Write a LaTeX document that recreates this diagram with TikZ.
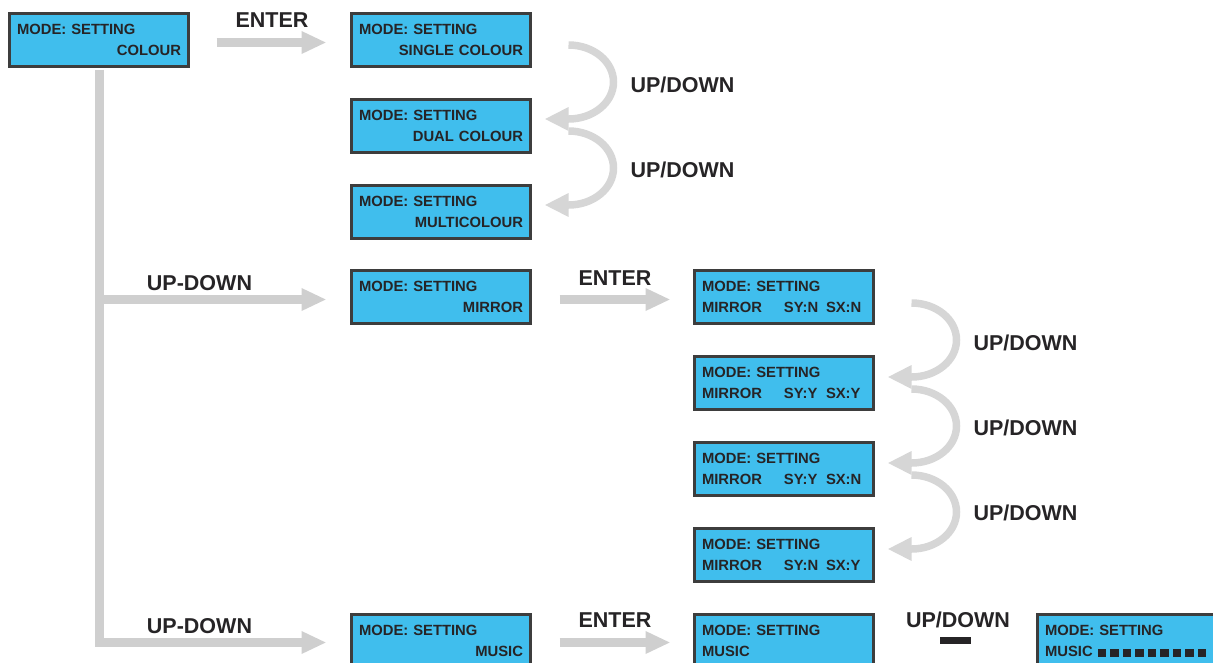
\documentclass[tikz,border=0pt]{standalone}
\usepackage{fontspec}
\setmainfont{Liberation Sans}
\usetikzlibrary{arrows.meta}
\definecolor{lcd}{RGB}{64,190,237}
\definecolor{frame}{RGB}{61,61,61}
\definecolor{ink}{RGB}{38,36,38}
\definecolor{arrowgray}{RGB}{207,207,207}
\definecolor{curvegray}{RGB}{214,214,214}
\newcommand\musicsq{\rule{8.5pt}{7.5pt}\hspace{4pt}}
\newcommand\rline[1]{\makebox[164pt][r]{#1}}
\newcommand\mline[2]{\makebox[82pt][l]{MIRROR}\makebox[42pt][l]{#1}#2}
\begin{document}
\begin{tikzpicture}[x=1pt,y=-1pt,
 lcdbox/.style={draw=frame, fill=lcd, line width=3pt, minimum width=179pt, minimum height=53pt, inner sep=0pt, text width=164pt, align=left, font=\bfseries\fontsize{14.8}{21}\selectfont, text=ink},
 lbl/.style={font=\bfseries\fontsize{21.5}{24}\selectfont, text=ink, inner sep=0pt, text height=15.4pt, text depth=0pt},
 bigarrow/.style={draw=arrowgray, line width=9pt, -{Triangle[length=25pt,width=21pt]}},
 curvearrow/.style={draw=curvegray, line width=7.5pt, -{Triangle[length=24pt,width=22pt]}},
]
\useasboundingbox (0,0) rectangle (1213,662);
\clip (0,0) rectangle (1213,662);

% boxes
\node[lcdbox] (b1) at (99,40) {MODE: SETTING\\\rline{COLOUR}};
\node[lcdbox] (b2) at (441,40) {MODE: SETTING\\\rline{SINGLE COLOUR}};
\node[lcdbox] (b3) at (441,126) {MODE: SETTING\\\rline{DUAL COLOUR}};
\node[lcdbox] (b4) at (441,212) {MODE: SETTING\\\rline{MULTICOLOUR}};
\node[lcdbox] (b5) at (441,297) {MODE: SETTING\\\rline{MIRROR}};
\node[lcdbox] (b6) at (784,297) {MODE: SETTING\\\mline{SY:N}{SX:N}};
\node[lcdbox] (b7) at (784,383) {MODE: SETTING\\\mline{SY:Y}{SX:Y}};
\node[lcdbox] (b8) at (784,469) {MODE: SETTING\\\mline{SY:Y}{SX:N}};
\node[lcdbox] (b9) at (784,555) {MODE: SETTING\\\mline{SY:N}{SX:Y}};
\node[lcdbox] (b10) at (441,641) {MODE: SETTING\\\rline{MUSIC}};
\node[lcdbox] (b11) at (784,641) {MODE: SETTING\\MUSIC};
\node[lcdbox] (b12) at (1127,641) {MODE: SETTING\\MUSIC\hspace{5pt}\musicsq\musicsq\musicsq\musicsq\musicsq\musicsq\musicsq\musicsq\rule{8.5pt}{7.5pt}};

% straight arrows
\draw[bigarrow, shorten <=26.5pt, shorten >=23.5pt] ([yshift=-2.5pt]b1.east) -- ([yshift=-2.5pt]b2.west);
\draw[bigarrow, shorten <=1.5pt, shorten >=23.5pt] (b1.south) |- ([yshift=-1.5pt]b10.west);
\coordinate (j1) at (b1.south |- b5.west);
\draw[bigarrow, shorten >=23.5pt] ([yshift=-2.5pt]j1) -- ([yshift=-2.5pt]b5.west);
\draw[bigarrow, shorten <=27.5pt, shorten >=22.5pt] ([yshift=-2.5pt]b5.east) -- ([yshift=-2.5pt]b6.west);
\draw[bigarrow, shorten <=27.5pt, shorten >=22.5pt] ([yshift=-1.5pt]b10.east) -- ([yshift=-1.5pt]b11.west);

% curved arrows
\draw[curvearrow] ([xshift=36.5pt,yshift=-5pt]b2.east) arc[start angle=-90,end angle=90,x radius=45,y radius=37] -- ++(-24,0);
\draw[curvearrow] ([xshift=36.5pt,yshift=-5pt]b3.east) arc[start angle=-90,end angle=90,x radius=45,y radius=37] -- ++(-24,0);
\draw[curvearrow] ([xshift=36.5pt,yshift=-6pt]b6.east) arc[start angle=-90,end angle=90,x radius=45,y radius=37] -- ++(-24,0);
\draw[curvearrow] ([xshift=36.5pt,yshift=-6pt]b7.east) arc[start angle=-90,end angle=90,x radius=45,y radius=37] -- ++(-24,0);
\draw[curvearrow] ([xshift=36.5pt,yshift=-6pt]b8.east) arc[start angle=-90,end angle=90,x radius=45,y radius=37] -- ++(-24,0);

% labels
\node[lbl] (l1) at (272,20) {ENTER};
\node[lbl] (l2) at (615,277.5) {ENTER};
\node[lbl] (l3) at (615,620) {ENTER};
\node[lbl] (l4) at (199.5,282.5) {UP-DOWN};
\node[lbl] (l5) at (199.5,625.5) {UP-DOWN};
\node[lbl] (l6) at (682.5,85) {UP/DOWN};
\node[lbl] (l7) at (682.5,170) {UP/DOWN};
\node[lbl] (l8) at (1025.5,342.5) {UP/DOWN};
\node[lbl] (l9) at (1025.5,427.5) {UP/DOWN};
\node[lbl] (l10) at (1025.5,512.5) {UP/DOWN};
\node[lbl] (l11) at (958,620) {UP/DOWN};
\node[fill=ink, minimum width=31pt, minimum height=7pt, inner sep=0pt] (bar) at (955.5,640.5) {};
\end{tikzpicture}
\end{document}
